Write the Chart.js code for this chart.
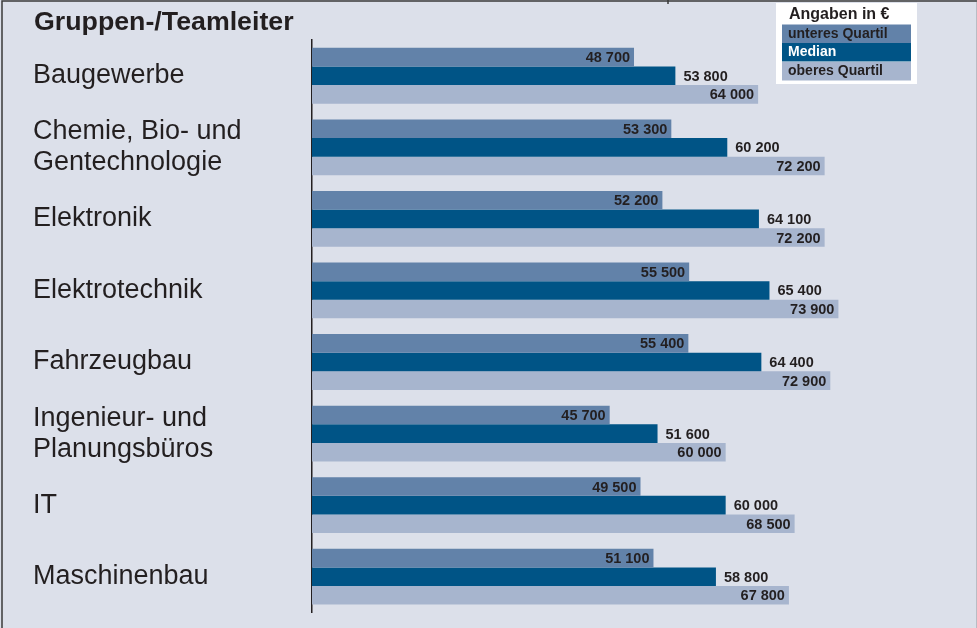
<!DOCTYPE html>
<html lang="de">
<head>
<meta charset="utf-8">
<title>Gruppen-/Teamleiter</title>
<script src="https://cdn.jsdelivr.net/npm/chart.js@4/dist/chart.umd.min.js"></script>
<style>
  html, body { margin: 0; padding: 0; background: #dce0ea; }
  #wrap { width: 977px; height: 628px; }
</style>
</head>
<body>
<div id="wrap"><canvas id="salaryChart" width="977" height="628"></canvas></div>
<script>
/* Jahresgehälter Gruppen-/Teamleiter nach Branche (Angaben in €) */
const branchen = [
    'Baugewerbe',
    ['Chemie, Bio- und', 'Gentechnologie'],
    'Elektronik',
    'Elektrotechnik',
    'Fahrzeugbau',
    ['Ingenieur- und', 'Planungsbüros'],
    'IT',
    'Maschinenbau'
];
const unteresQuartil = [48700, 53300, 52200, 55500, 55400, 45700, 49500, 51100];
const median         = [53800, 60200, 64100, 65400, 64400, 51600, 60000, 58800];
const oberesQuartil  = [64000, 72200, 72200, 73900, 72900, 60000, 68500, 67800];

const FONT = '"Liberation Sans", Arial, Helvetica, sans-serif';
const INK = '#231f20';
const BG = '#dce0ea';

const fmt = v => String(v).replace(/\B(?=(\d{3})+(?!\d))/g, ' ');

/* ── Hintergrund, Rahmen, Titel, Legendenkasten ─────────────────── */
const framePlugin = {
    id: 'frame',
    beforeDraw(chart) {
        const ctx = chart.ctx;
        ctx.save();
        ctx.fillStyle = BG;
        ctx.fillRect(0, 0, chart.width, chart.height);
        ctx.restore();
    },
    afterDraw(chart) {
        const ctx = chart.ctx;
        ctx.save();
        // Rahmen
        ctx.strokeStyle = '#3a3a3a';
        ctx.lineWidth = 1.5;
        ctx.beginPath();
        ctx.moveTo(2, chart.height);
        ctx.lineTo(2, 1);
        ctx.lineTo(chart.width, 1);
        ctx.moveTo(668, 0);
        ctx.lineTo(668, 4);
        ctx.stroke();
        ctx.strokeStyle = '#b9bcc4';
        ctx.lineWidth = 1;
        ctx.beginPath();
        ctx.moveTo(976.5, 2);
        ctx.lineTo(976.5, chart.height);
        ctx.stroke();

        // Titel (leicht breit laufend wie im Druck)
        ctx.fillStyle = INK;
        ctx.font = 'bold 25px ' + FONT;
        ctx.textBaseline = 'alphabetic';
        ctx.textAlign = 'left';
        ctx.save();
        ctx.translate(34, 30);
        ctx.scale(1.07, 1);
        ctx.fillText('Gruppen-/Teamleiter', 0, 0);
        ctx.restore();

        // Legende
        ctx.fillStyle = '#ffffff';
        ctx.fillRect(776, 3, 141, 81);
        ctx.fillStyle = INK;
        ctx.font = 'bold 16px ' + FONT;
        ctx.fillText('Angaben in €', 789, 19);
        const rows = [24.5, 43, 62];
        chart.data.datasets.forEach((ds, i) => {
            ctx.fillStyle = ds.backgroundColor;
            ctx.fillRect(782, rows[i], 129, 18.5);
            ctx.fillStyle = i === 1 ? '#ffffff' : INK;
            ctx.font = 'bold 14px ' + FONT;
            ctx.textBaseline = 'middle';
            ctx.fillText(ds.label, 788, rows[i] + 9.5);
        });
        ctx.restore();
    }
};

/* ── Werte an den Balken ────────────────────────────────────────── */
const valueLabels = {
    id: 'valueLabels',
    afterDatasetsDraw(chart) {
        const ctx = chart.ctx;
        ctx.save();
        ctx.font = 'bold 14.5px ' + FONT;
        ctx.fillStyle = INK;
        ctx.textBaseline = 'middle';
        chart.data.datasets.forEach((ds, i) => {
            chart.getDatasetMeta(i).data.forEach((bar, j) => {
                const txt = fmt(ds.data[j]);
                if (i === 1) {
                    ctx.textAlign = 'left';
                    ctx.fillText(txt, bar.x + 8, bar.y + 1);
                } else {
                    ctx.textAlign = 'right';
                    ctx.fillText(txt, bar.x - 4, bar.y + 1);
                }
            });
        });
        ctx.restore();
    }
};

new Chart(document.getElementById('salaryChart').getContext('2d'), {
    type: 'bar',
    data: {
        labels: branchen,
        datasets: [
            { label: 'unteres Quartil', data: unteresQuartil, backgroundColor: '#6282a9' },
            { label: 'Median',          data: median,         backgroundColor: '#005486' },
            { label: 'oberes Quartil',  data: oberesQuartil,  backgroundColor: '#a7b5ce' }
        ]
    },
    options: {
        indexAxis: 'y',
        responsive: false,
        animation: false,
        categoryPercentage: 0.78,
        barPercentage: 1,
        layout: { padding: { top: 40, bottom: 13, left: 33, right: 8 } },
        plugins: {
            legend: { display: false },
            title: { display: false },
            tooltip: { enabled: false }
        },
        scales: {
            x: {
                display: false,
                min: 9000,
                max: 90000
            },
            y: {
                grid: { display: false, drawTicks: false },
                border: { display: true, color: INK, width: 1.5 },
                afterFit: s => { s.width = 279; },
                ticks: {
                    crossAlign: 'far',
                    color: INK,
                    padding: 0,
                    font: { family: FONT, size: 27, lineHeight: 1.15 }
                }
            }
        }
    },
    plugins: [framePlugin, valueLabels]
});
</script>
</body>
</html>
